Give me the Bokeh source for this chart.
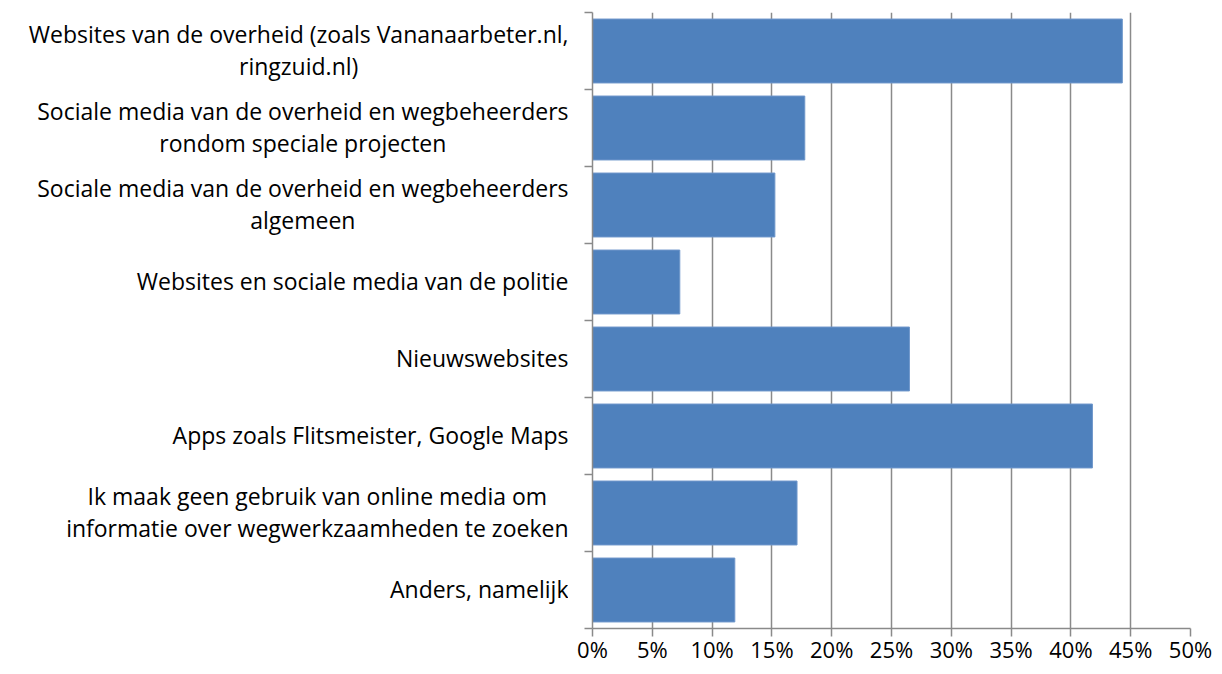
from bokeh.plotting import figure
from bokeh.layouts import row
from bokeh.models import Range1d, FixedTicker, NumeralTickFormatter, Label
from bokeh.embed import file_html
from bokeh.resources import INLINE

categories = [
    "Websites van de overheid (zoals Vananaarbeter.nl,\nringzuid.nl)",
    "Sociale media van de overheid en wegbeheerders\nrondom speciale projecten",
    "Sociale media van de overheid en wegbeheerders\nalgemeen",
    "Websites en sociale media van de politie",
    "Nieuwswebsites",
    "Apps zoals Flitsmeister, Google Maps",
    "Ik maak geen gebruik van online media om\ninformatie over wegwerkzaamheden te zoeken",
    "Anders, namelijk",
]
values = [0.443, 0.1775, 0.1525, 0.073, 0.265, 0.418, 0.171, 0.119]
x_ticks = [0, 0.05, 0.10, 0.15, 0.20, 0.25, 0.30, 0.35, 0.40, 0.45, 0.50]

n = len(categories)
centers = [i + 0.5 for i in range(n)]
bounds = [float(i) for i in range(n + 1)]

FONT = "Open Sans"
FS = "22px"
LFS = "23px"
TOP, BOTTOM = 12, 46
LABEL_W = 568

y_range = Range1d(n, 0)

# label column (shares the y range with the chart)
lf = figure(width=LABEL_W, height=674, output_backend="svg", toolbar_location=None,
            x_range=Range1d(0, 1), y_range=y_range,
            x_axis_location=None, y_axis_location=None,
            min_border_left=0, min_border_right=0, min_border_top=TOP, min_border_bottom=BOTTOM)
lf.outline_line_color = None
lf.xgrid.grid_line_color = None
lf.ygrid.grid_line_color = None
for c, lab in zip(centers, categories):
    lf.add_layout(Label(x=1, y=c, x_offset=0, y_offset=1, text=lab, anchor="center_right",
                        text_align="center", text_baseline="middle",
                        text_font=FONT, text_font_size=LFS, text_color="black",
                        text_line_height=0.99))

p = figure(width=1222 - LABEL_W, height=674, output_backend="svg", toolbar_location=None,
           x_range=Range1d(0, 0.5), y_range=y_range,
           min_border_left=24, min_border_right=32, min_border_top=TOP, min_border_bottom=BOTTOM)
p.outline_line_color = None
p.background_fill_color = "white"

p.hbar(y=centers, right=values, left=0, height=0.83, fill_color="#4F81BD", line_color="#6F97CB", line_width=1)

grid_col = "#8A8A8A"
p.xgrid.ticker = FixedTicker(ticks=x_ticks)
p.xgrid.grid_line_color = grid_col
p.xgrid.grid_line_width = 1.5
p.ygrid.grid_line_color = None

xa = p.xaxis[0]
xa.ticker = FixedTicker(ticks=x_ticks)
xa.formatter = NumeralTickFormatter(format="0%")
xa.axis_line_color = grid_col
xa.axis_line_width = 1.5
xa.major_tick_line_color = grid_col
xa.major_tick_line_width = 1.5
xa.major_tick_in = 0
xa.major_tick_out = 8
xa.minor_tick_line_color = None
xa.major_label_text_font = FONT
xa.major_label_text_font_size = FS
xa.major_label_text_color = "black"
xa.major_label_standoff = -3

ya = p.yaxis[0]
ya.ticker = FixedTicker(ticks=[], minor_ticks=bounds)
ya.axis_line_color = grid_col
ya.axis_line_width = 1.5
ya.major_tick_line_color = None
ya.minor_tick_line_color = grid_col
ya.minor_tick_line_width = 1.5
ya.minor_tick_in = 0
ya.minor_tick_out = 8
ya.major_label_standoff = 0

layout = row(lf, p, spacing=0)
open("out.html", "w").write(file_html(layout, INLINE))
